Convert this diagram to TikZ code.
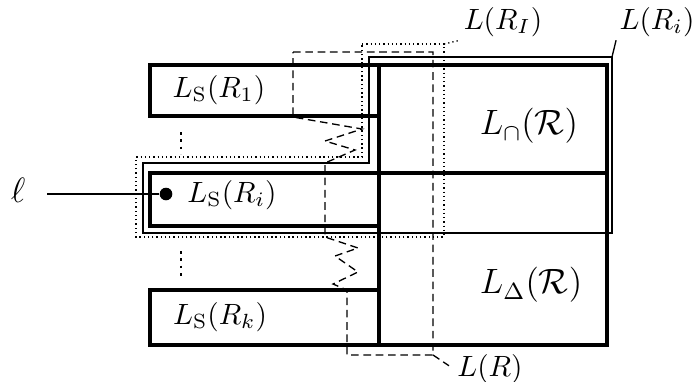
\documentclass[tikz,border=0pt]{standalone}
\usepackage{tikz}
\usetikzlibrary{positioning}

\begin{document}
\begin{tikzpicture}[
    x=0.341pt, y=-0.341pt,
    lbox/.style={line width=1.4pt},
    regsmall/.style={line width=0.45pt},
    regset/.style={line width=0.45pt, dash pattern=on 0.45pt off 1pt},
    regall/.style={line width=0.45pt, dash pattern=on 2.6pt off 1.6pt},
    tag/.style={inner sep=1pt, font=\normalsize},
    vdots/.style={line width=0.9pt, dash pattern=on 0.9pt off 1.6pt}
]
\useasboundingbox (0,0) rectangle (694,381);

% Region outlines
\draw[regsmall] (612,57) -- (369,57) -- (369,163) -- (143,163) -- (143,233) -- (612,233) -- cycle;
\draw[regset] (362,44) -- (444,44) -- (444,237) -- (136,237) -- (136,157) -- (362,157) -- cycle;
\draw[regall] (293,52) -- (433,52) -- (433,355) -- (347,355) -- (347,290) -- (333,284)
    -- (358,272) -- (335,256) -- (358,248) -- (325,237) -- (325,163) -- (355,150)
    -- (325,141) -- (362,129) -- (293,117) -- cycle;

% Layout boxes
\draw[lbox] (379,65) rectangle (607,345);
\draw[lbox] (150,173) -- (607,173);
\draw[lbox] (150,65) rectangle (379,116);
\draw[lbox] (150,173) rectangle (379,226);
\draw[lbox] (150,290) rectangle (379,345);

% Box labels
\node (ls1) at (219,90) {$L_{\mathrm{S}}(R_1)$};
\node (lsi) at (232,195) {$L_{\mathrm{S}}(R_i)$};
\node (lsk) at (220,317) {$L_{\mathrm{S}}(R_k)$};
\node[font=\large] (lcap) at (529,126) {$L_{\cap}(\mathcal{R})$};
\node[font=\large] (ldelta) at (531,285) {$L_{\Delta}(\mathcal{R})$};
\draw[vdots] (181,132) -- (181,154);
\draw[vdots] (181,251) -- (181,279);

% Point and its label
\node[circle, fill, inner sep=0pt, minimum size=4.3pt] (pt) at (166,194) {};
\node[font=\large] (ell) at (18,190) {$\ell$};
\draw[regsmall, shorten <=4pt] (ell.east |- pt) -- (pt);

% Region names
\coordinate (cRi) at (612,57);
\coordinate (cRI) at (444,44);
\coordinate (cR) at (433,355);
\node[tag] (labRi) at (657,22) {$L(R_i)$};
\node[tag] (labRI) at (503,22) {$L(R_I)$};
\node[tag] (labR) at (490,369) {$L(R)$};
\draw[regsmall] (cRi) -- (labRi.south west);
\draw[regset] (cRI) -- (labRI.south west);
\draw[regall, shorten >=2pt] (cR) -- (labR.west);

\end{tikzpicture}
\end{document}
